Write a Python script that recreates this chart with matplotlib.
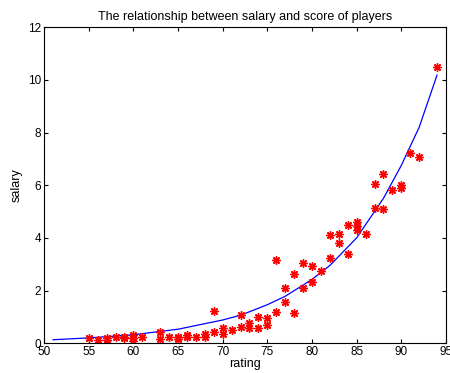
import matplotlib
matplotlib.use("Agg")
import matplotlib.pyplot as plt

# player ratings and salaries
rating = [55, 56, 57, 57, 58, 59, 59, 60, 60, 60, 61, 63, 63, 64, 65, 65,
          66, 66, 67, 68, 68, 69, 69, 70, 70, 71, 72, 72, 73, 73, 74, 74,
          75, 75, 76, 76, 77, 77, 78, 78, 79, 79, 80, 80, 81, 82, 82, 83,
          83, 84, 84, 85, 85, 85, 86, 87, 87, 88, 88, 89, 90, 90, 91, 92, 94]
salary = [0.2, 0.12, 0.18, 0.12, 0.22, 0.25, 0.2, 0.3, 0.2, 0.1, 0.25, 0.43, 0.15, 0.22, 0.24, 0.15,
          0.3, 0.22, 0.22, 0.33, 0.22, 0.42, 1.23, 0.56, 0.34, 0.49, 0.62, 1.06, 0.78, 0.56, 1.0, 0.56,
          0.94, 0.68, 1.19, 3.15, 2.1, 1.57, 2.62, 1.13, 3.05, 2.08, 2.94, 2.34, 2.75, 4.11, 3.25, 4.16,
          3.82, 4.47, 3.37, 4.6, 4.45, 4.3, 4.14, 6.04, 5.14, 6.43, 5.08, 5.81, 6.01, 5.9, 7.23, 7.08, 10.49]

# fitted curve as drawn in the picture
fit_x = [51, 55, 60, 65, 70, 72, 75, 77, 80, 82, 85, 88, 90, 92, 94]
fit_y = [0.13, 0.2, 0.32, 0.53, 0.88, 1.06, 1.46, 1.78, 2.42, 2.95, 4.0, 5.5, 6.75, 8.2, 10.18]

plt.rcParams['font.family'] = ['Liberation Sans', 'DejaVu Sans']

fig = plt.figure(figsize=(4.5, 3.73), dpi=100)
ax = fig.add_axes([0.098, 0.08, 0.893, 0.847])

ax.plot(fit_x, fit_y, color='blue', linewidth=0.9)
ax.plot(rating, salary, linestyle='none', marker=(8, 2, 0), markersize=6,
        color='red', markeredgewidth=1.0)

ax.set_xlim(50, 95)
ax.set_ylim(0, 12)
ax.set_xticks(range(50, 96, 5))
ax.set_yticks(range(0, 13, 2))
ax.tick_params(direction='in', top=True, right=True, labelsize=8.5, length=3, pad=2)
for s in ax.spines.values():
    s.set_linewidth(0.8)

ax.set_title('The relationship between salary and score of players', fontsize=9, pad=5)
ax.set_xlabel('rating', fontsize=9, labelpad=0)
ax.set_ylabel('salary', fontsize=9, labelpad=4)

fig.savefig('out.png', dpi=100)
